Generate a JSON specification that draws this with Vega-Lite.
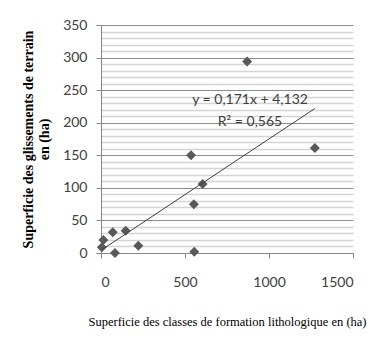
{
  "$schema": "https://vega.github.io/schema/vega-lite/v6.json",
  "autosize": "none",
  "width": 252,
  "height": 228,
  "padding": {"left": 101, "top": 25, "right": 25, "bottom": 99},
  "background": "white",
  "config": {
    "view": {"stroke": null},
    "axis": {
      "labelFont": "Lato",
      "labelFontSize": 14,
      "labelColor": "#404040",
      "labelOverlap": false,
      "domainColor": "#868686",
      "tickColor": "#868686",
      "tickSize": 5,
      "titleFont": "Liberation Serif",
      "titleColor": "#000000"
    }
  },
  "datasets": {
    "parcelles": [
      {"formation": 5, "glissement": 9},
      {"formation": 14, "glissement": 20},
      {"formation": 70, "glissement": 32},
      {"formation": 83, "glissement": 0},
      {"formation": 147, "glissement": 34},
      {"formation": 222, "glissement": 11},
      {"formation": 536, "glissement": 150},
      {"formation": 553, "glissement": 75},
      {"formation": 555, "glissement": 2},
      {"formation": 605, "glissement": 106},
      {"formation": 870, "glissement": 294},
      {"formation": 1273, "glissement": 161}
    ],
    "tendance": [
      {"formation": 5, "glissement": 4.987},
      {"formation": 1273, "glissement": 221.815}
    ]
  },
  "layer": [
    {
      "data": {"name": "parcelles"},
      "mark": {"type": "point", "shape": "diamond", "filled": true, "size": 100, "color": "#595959", "opacity": 1},
      "encoding": {
        "x": {
          "field": "formation", "type": "quantitative",
          "scale": {"domain": [0, 1500], "nice": false},
          "axis": {
            "values": [0, 500, 1000, 1500],
            "format": "d",
            "grid": false,
            "labelPadding": 17,
            "title": "Superficie des classes de formation lithologique en (ha)",
            "titleFontSize": 12.5,
            "titleFontWeight": "normal",
            "titlePadding": 26
          }
        },
        "y": {
          "field": "glissement", "type": "quantitative",
          "scale": {"domain": [0, 350], "nice": false},
          "axis": {
            "values": [0, 10, 20, 30, 40, 50, 60, 70, 80, 90, 100, 110, 120, 130, 140, 150, 160, 170, 180, 190, 200, 210, 220, 230, 240, 250, 260, 270, 280, 290, 300, 310, 320, 330, 340, 350],
            "tickCount": 100,
            "grid": true,
            "gridColor": {"condition": {"test": "datum.value % 50 === 0", "value": "#8c8c8c"}, "value": "#d4d4d4"},
            "gridWidth": {"condition": {"test": "datum.value % 50 === 0", "value": 1}, "value": 1.5},
            "tickOpacity": {"condition": {"test": "datum.value % 50 === 0", "value": 1}, "value": 0},
            "labelExpr": "datum.value % 50 === 0 ? datum.label : ''",
            "labelPadding": 9,
            "title": ["Superficie des glissements de terrain", "en (ha)"],
            "titleFontSize": 14,
            "titleFontWeight": "bold",
            "titlePadding": 11
          }
        }
      }
    },
    {
      "data": {"name": "tendance"},
      "mark": {"type": "line", "color": "#404040", "strokeWidth": 1},
      "encoding": {
        "x": {"field": "formation", "type": "quantitative"},
        "y": {"field": "glissement", "type": "quantitative"}
      }
    },
    {
      "data": {"values": [{"texte": "y = 0,171x + 4,132"}]},
      "mark": {"type": "text", "font": "Lato", "fontSize": 14, "color": "#404040"},
      "encoding": {
        "x": {"datum": 887},
        "y": {"datum": 235},
        "text": {"field": "texte"}
      }
    },
    {
      "data": {"values": [{"texte": "R² = 0,565"}]},
      "mark": {"type": "text", "font": "Lato", "fontSize": 14, "color": "#404040"},
      "encoding": {
        "x": {"datum": 887},
        "y": {"datum": 201},
        "text": {"field": "texte"}
      }
    }
  ]
}
